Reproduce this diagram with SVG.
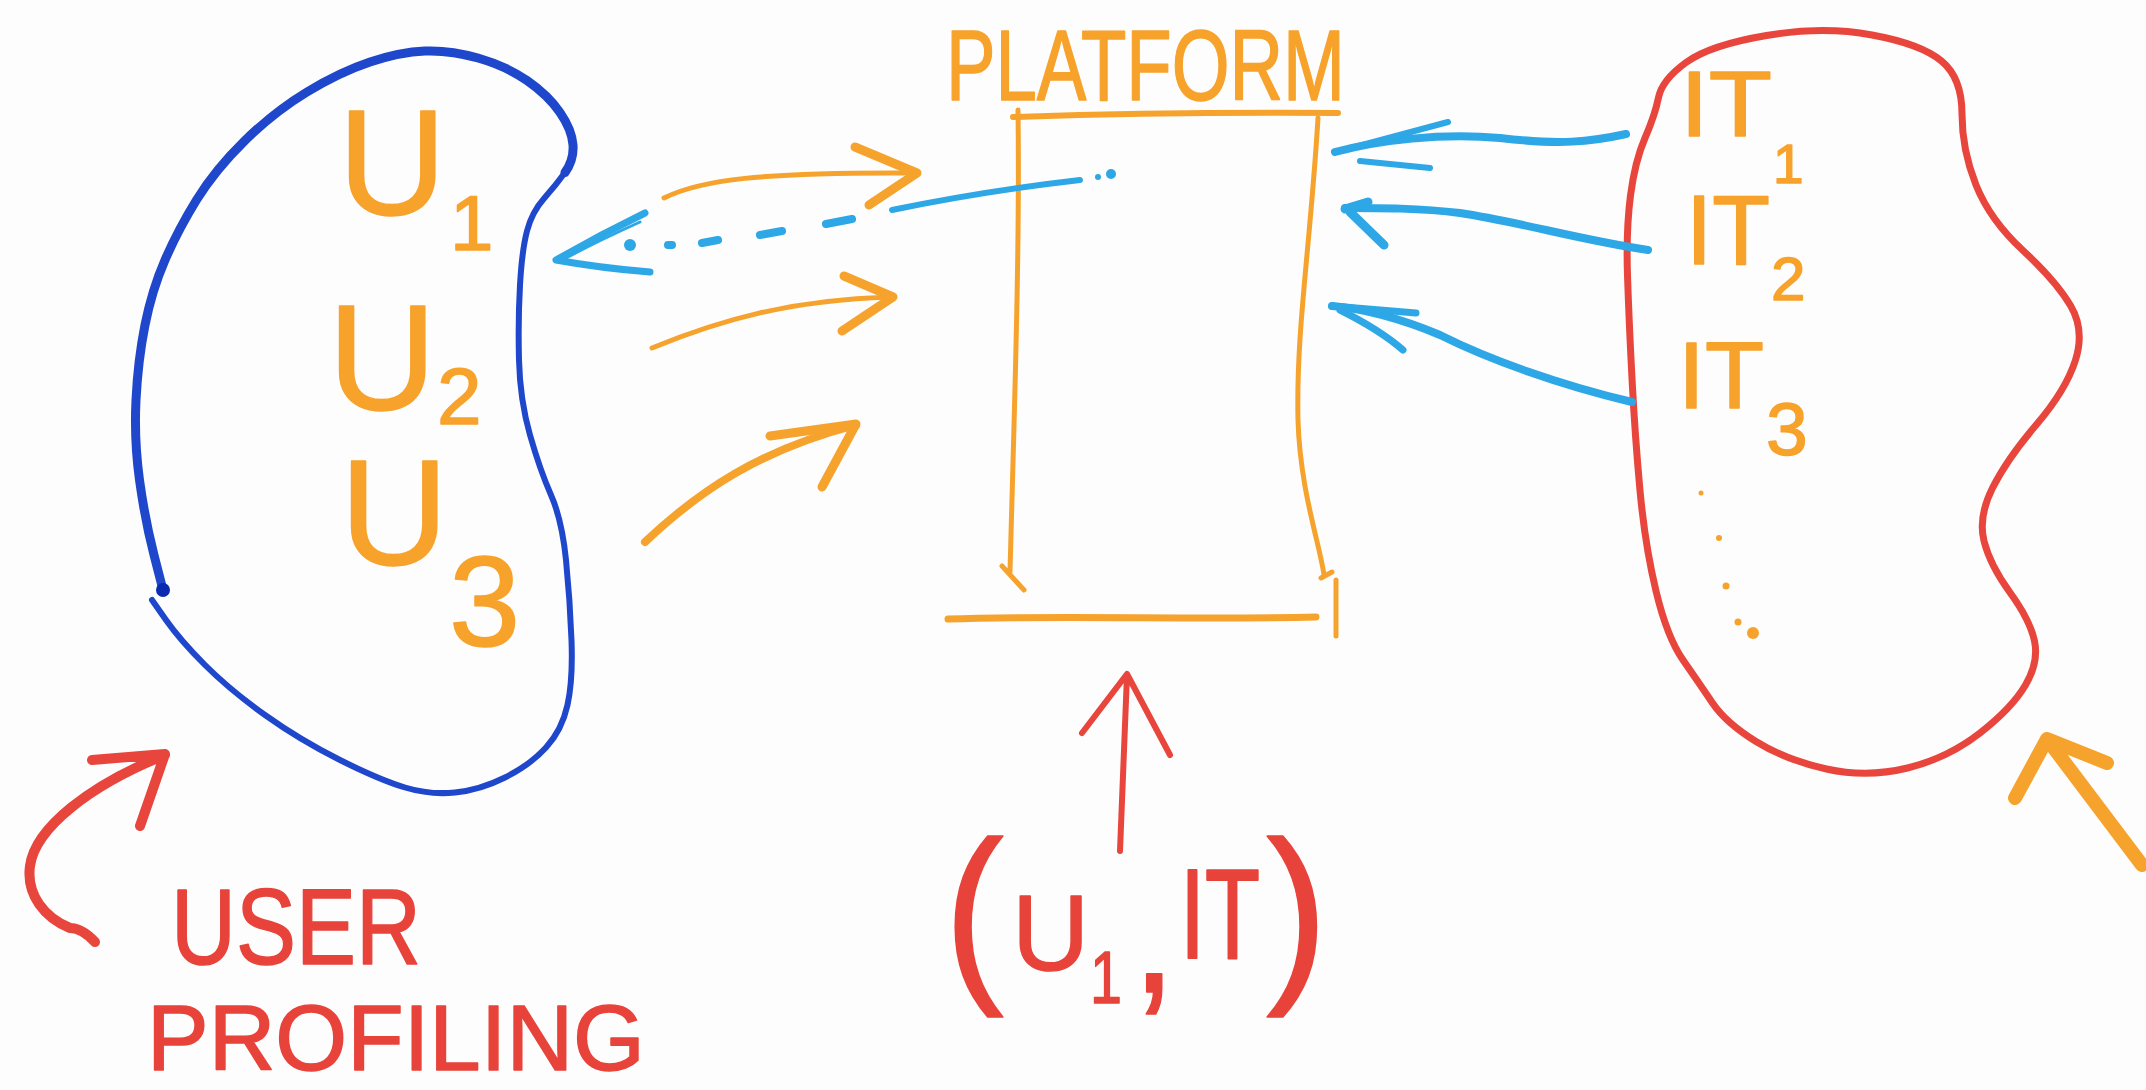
<svg xmlns="http://www.w3.org/2000/svg" width="2146" height="1090" viewBox="0 0 2146 1090">
<style>
  .o{fill:none;stroke:#F6A32E;stroke-linecap:round;stroke-linejoin:round}
  .lb{fill:none;stroke:#2DA7E6;stroke-linecap:round;stroke-linejoin:round}
  .r{fill:none;stroke:#E8453C;stroke-linecap:round;stroke-linejoin:round}
  .db{fill:none;stroke:#1F47CC;stroke-linecap:round;stroke-linejoin:round}
  .to{font-family:"Liberation Sans",Arial,sans-serif;fill:#F7A22B;stroke:#F7A22B;stroke-width:1.5;stroke-linejoin:round}
  .tr{font-family:"Liberation Sans",Arial,sans-serif;fill:#E8433A;stroke:#E8433A;stroke-width:1.5;stroke-linejoin:round}
</style>
<rect width="2146" height="1090" fill="#FDFDFD"/>

<g id="node-users">
  <path class="db" stroke-width="9" d="M163,590 L154,555 Q145,520 139.5,480 Q134,440 136,400 Q138,360 145,325 Q152,290 165,260 Q178,230 196.5,200 Q215,170 244.5,141 Q274,112 307,92 Q340,72 370,62 Q400,52 425,51 Q450,50 478,58 Q506,66 527,80.5 Q548,95 560,112.5 Q572,130 573,145 Q574,160 565,172.5"/>
  <path class="db" stroke-width="6" d="M565,172.5 Q556,185 544,198.5 Q532,212 527,231 Q522,250 520,285 Q518,320 519,360 Q520,400 530,435 Q540,470 551,495 Q562,520 566,560 Q570,600 571.5,640 Q573,680 567.5,705 Q562,730 546,747.5 Q530,765 505,777.5 Q480,790 455,792.5 Q430,795 405,787.5 Q380,780 340,760 Q300,740 265,715 Q230,690 205,665 Q180,640 166,620 L152,600"/>
  <circle cx="163" cy="590" r="7" fill="#0A2AB0"/>
  <text class="to" x="338" y="215" font-size="150">U</text>
  <text class="to" x="450" y="250" font-size="78">1</text>
  <text class="to" x="328" y="410" font-size="150">U</text>
  <text class="to" x="437" y="424" font-size="80">2</text>
  <text class="to" x="340" y="565" font-size="150">U</text>
  <text class="to" x="449" y="646" font-size="128">3</text>
</g>

<g id="node-platform">
  <text class="to" x="946" y="100" font-size="100" textLength="399" lengthAdjust="spacingAndGlyphs">PLATFORM</text>
  <path class="o" stroke-width="6" d="M1013,117 Q1170,112 1338,113"/>
  <path class="o" stroke-width="5" d="M1018,110 C1020,250 1014,420 1010,572 M1002,566 L1024,590"/>
  <path class="o" stroke-width="5" d="M1318,118 C1310,250 1296,330 1298,420 C1300,490 1320,545 1324,575 M1321,578 L1332,572"/>
  <path class="o" stroke-width="7" d="M948,619 C1050,615 1200,620 1316,617"/>
  <path class="o" stroke-width="5" d="M1336,580 L1336,636"/>
</g>

<g id="node-items">
  <path class="r" stroke-width="7" d="M1658.5,97.5 Q1662,80 1686,62.5 Q1710,45 1766.5,35.5 Q1823,26 1872,35 Q1921,44 1941.5,61 Q1962,78 1962,114 Q1962,150 1976,185 Q1990,220 2023,250.5 Q2056,281 2070.5,305.5 Q2085,330 2075.5,360 Q2066,390 2036.5,424.5 Q2007,459 1992.5,488 Q1978,517 1984,541 Q1990,565 2010,592.5 Q2030,620 2034.5,641 Q2039,662 2025.5,685 Q2012,708 1980,733 Q1948,758 1907.5,768 Q1867,778 1826.5,769 Q1786,760 1756,741.5 Q1726,723 1712.5,703 Q1699,683 1683,660 Q1667,637 1656,591 Q1645,545 1640,490.5 Q1635,436 1632,378.5 Q1629,321 1627.5,275.5 Q1626,230 1630.5,195.5 Q1635,161 1645,138 Q1655,115 1658.5,97.5 Z"/>
  <text class="to" x="1680" y="136" font-size="92" textLength="92" lengthAdjust="spacingAndGlyphs">IT</text>
  <text class="to" x="1773" y="183" font-size="55">1</text>
  <text class="to" x="1686" y="264" font-size="98" textLength="84" lengthAdjust="spacingAndGlyphs">IT</text>
  <text class="to" x="1771" y="300" font-size="62">2</text>
  <text class="to" x="1678" y="408" font-size="95" textLength="86" lengthAdjust="spacingAndGlyphs">IT</text>
  <text class="to" x="1766" y="455" font-size="75">3</text>
  <g fill="#F7A22B">
    <circle cx="1701" cy="493" r="2.5"/>
    <circle cx="1719" cy="538" r="3"/>
    <circle cx="1726" cy="586" r="3.5"/>
    <circle cx="1738" cy="622" r="3.5"/>
    <circle cx="1753" cy="633" r="6"/>
  </g>
</g>

<g id="label-user-profiling">
  <text class="tr" x="171" y="964" font-size="108" textLength="250" lengthAdjust="spacingAndGlyphs">USER</text>
  <text class="tr" x="147" y="1070" font-size="92" textLength="498" lengthAdjust="spacingAndGlyphs">PROFILING</text>
</g>

<g id="label-pair">
  <text class="tr" x="944" y="977" font-size="195" textLength="60" lengthAdjust="spacingAndGlyphs">(</text>
  <text class="tr" x="1012" y="970" font-size="107">U</text>
  <text class="tr" x="1090" y="1003" font-size="75" textLength="32" lengthAdjust="spacingAndGlyphs">1</text>
  <text class="tr" x="1132" y="992" font-size="170" textLength="44" lengthAdjust="spacingAndGlyphs">,</text>
  <text class="tr" transform="translate(1180,958) scale(1,1.42)" x="0" y="0" font-size="90" stroke-width="1">IT</text>
  <text class="tr" x="1266" y="977" font-size="195" textLength="62" lengthAdjust="spacingAndGlyphs">)</text>
</g>

<g id="connectors">
  <!-- users -> platform -->
  <path class="o" stroke-width="5" d="M664,198 C700,180 760,172 915,173"/>
  <path class="o" stroke-width="9" d="M855,147 L917,173 L869,205"/>
  <path class="o" stroke-width="5" d="M652,348 C720,320 790,300 890,297"/>
  <path class="o" stroke-width="9" d="M844,276 L893,297 L842,331"/>
  <path class="o" stroke-width="8" d="M645,542 C700,490 760,450 856,425"/>
  <path class="o" stroke-width="9" d="M770,436 L856,424 L822,487"/>
  <!-- platform -> users (dashed) -->
  <path class="lb" stroke-width="6" d="M1080,180 C1010,188 950,198 892,210"/>
  <circle cx="1098" cy="177" r="3" fill="#2DA7E6"/>
  <circle cx="1111" cy="174" r="5" fill="#2DA7E6"/>
  <path class="lb" stroke-width="8" d="M852,219 L826,224 M782,231 L760,235 M718,240 L702,243 M672,245 L668,245"/>
  <circle cx="630" cy="245" r="6" fill="#2DA7E6"/>
  <path class="lb" stroke-width="7" d="M645,213 Q600,235 556,260 Q600,268 650,272"/>
  <path class="lb" stroke-width="3" d="M640,222 Q600,240 566,258"/>
  <!-- items -> platform -->
  <path class="lb" stroke-width="8" d="M1626,134 C1590,142 1560,145 1500,138 C1440,133 1380,140 1335,152"/>
  <path class="lb" stroke-width="6" d="M1448,122 L1336,152 M1360,161 L1430,168"/>
  <path class="lb" stroke-width="8" d="M1648,250 C1580,240 1520,222 1460,213 C1420,208 1380,208 1345,208"/>
  <path class="lb" stroke-width="9" d="M1345,209 L1368,202 M1350,212 L1384,245"/>
  <path class="lb" stroke-width="8" d="M1632,402 C1560,385 1490,360 1440,335 C1400,318 1360,308 1332,306"/>
  <path class="lb" stroke-width="7" d="M1332,306 L1416,313 M1340,310 Q1380,330 1403,350"/>
  <!-- annotations -->
  <path class="o" stroke-width="14" d="M2142,865 L2047,739 M2015,798 L2047,739 L2107,763"/>
  <path class="r" stroke-width="6" d="M1120,851 C1122,800 1124,740 1127,675 M1082,733 L1127,674 L1170,755"/>
  <path class="r" stroke-width="10" d="M95,942 Q82,928 70,928 C45,918 26,895 30,866 C35,828 90,785 165,755 M92,760 L165,754 L140,826"/>
</g>
</svg>
